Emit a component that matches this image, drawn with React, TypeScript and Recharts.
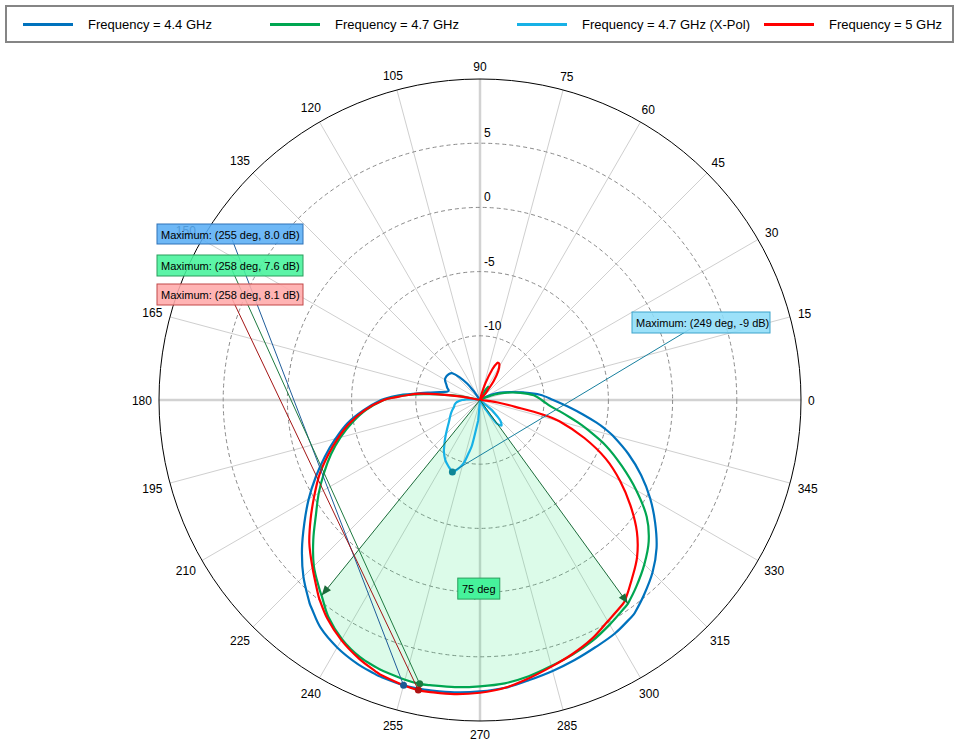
import React from 'react';
import { RadarChart, Radar, PolarGrid, PolarAngleAxis, PolarRadiusAxis } from 'recharts';

// angles (deg) of the sampled pattern, shared by all series
const angles = [
  0, 5, 10, 15, 20, 25, 30, 35, 40, 45,
  50, 54, 58, 62, 65, 68, 72, 76, 80, 85,
  90, 95, 100, 105, 110, 115, 120, 125, 128, 132,
  136, 140, 145, 150, 155, 160, 163, 166, 169, 172,
  174, 176, 178, 180, 185, 190, 195, 200, 205, 210,
  215, 220, 225, 230, 231, 235, 240, 245, 249, 250,
  255, 258, 260, 265, 270, 275, 280, 285, 290, 295,
  300, 305, 306, 310, 315, 320, 325, 330, 335, 340,
  345, 347, 349, 352, 355,
];

// gain in dB, -15 = plot centre
const f44 = [
  -9.3, -10.3, -11.6, -12.6, -13.3, -14.0, -14.6, -15, -15, -15,
  -15, -15, -15, -15, -15, -15, -15, -15, -15, -15,
  -15, -15, -15, -15, -15, -15, -15, -14.2, -13.4, -12.6,
  -12.0, -11.85, -11.8, -11.85, -12.1, -12.3, -12.45, -12.35, -11.8, -10.9,
  -10.1, -9.0, -8.1, -7.3, -5.9, -4.5, -3.35, -2.15, -0.9, 0.4,
  1.7, 3.1, 4.45, 5.65, 5.85, 6.65, 7.25, 7.65, 7.85, 7.9,
  8.0, 7.98, 7.95, 7.85, 7.7, 7.5, 7.15, 6.85, 6.55, 6.25,
  6.0, 5.6, 5.5, 4.85, 4.0, 2.95, 1.65, 0.3, -1.15, -2.7,
  -4.3, -5.0, -5.75, -6.9, -7.9,
];

const f47 = [
  -10.2, -10.8, -11.8, -12.8, -13.7, -14.5, -15, -15, -15, -15,
  -15, -14.3, -13.8, -14.2, -14.8, -15, -15, -15, -15, -15,
  -15, -15, -15, -15, -15, -15, -15, -15, -15, -15,
  -15, -15, -15, -15, -15, -15, -15, -15, -13.4, -11.8,
  -10.6, -9.4, -8.4, -7.5, -6.1, -4.9, -3.75, -2.65, -1.6, -0.5,
  0.6, 1.95, 3.3, 4.4, 4.6, 5.6, 6.5, 7.1, 7.35, 7.4,
  7.55, 7.6, 7.55, 7.45, 7.3, 7.15, 6.85, 6.45, 6.1, 5.7,
  5.2, 4.7, 4.6, 3.95, 3.1, 2.15, 0.85, -0.95, -2.8, -4.55,
  -6.45, -7.15, -7.85, -8.75, -9.5,
];

const f47x = [
  -15, -15, -15, -15, -15, -15, -15, -15, -15, -15,
  -15, -15, -15, -15, -15, -15, -15, -15, -15, -15,
  -15, -15, -15, -15, -15, -15, -15, -15, -15, -15,
  -15, -15, -15, -15, -15, -15, -15, -15, -15, -15,
  -14.6, -14.3, -13.9, -13.6, -13.2, -13.0, -12.9, -12.7, -12.5, -12.3,
  -12.05, -11.7, -11.25, -10.7, -10.6, -10.1, -9.6, -9.25, -9.0, -9.05,
  -9.8, -10.8, -11.4, -13.4, -15, -15, -15, -15, -15, -15,
  -14.2, -12.9, -12.7, -12.4, -12.8, -13.8, -15, -15, -15, -15,
  -15, -15, -15, -15, -15,
];

const f50 = [
  -15, -15, -15, -15, -15, -15, -15, -15, -15, -15,
  -14.3, -13.2, -12.3, -11.8, -11.8, -12.4, -13.6, -14.6, -15, -15,
  -15, -15, -15, -15, -15, -15, -15, -15, -15, -15,
  -15, -15, -15, -15, -15, -15, -15, -15, -13.8, -12.0,
  -10.3, -9.4, -8.5, -7.5, -6.0, -4.7, -3.55, -2.4, -1.2, -0.1,
  1.1, 2.35, 3.45, 4.65, 4.9, 5.75, 6.6, 7.25, 7.65, 7.75,
  8.0, 8.1, 8.08, 8.0, 7.8, 7.5, 7.0, 6.5, 6.05, 5.55,
  4.9, 4.4, 4.25, 3.35, 2.3, 0.95, -0.7, -2.4, -4.2, -6.35,
  -8.6, -10.0, -12.2, -13.6, -14.5,
];

// half-power beam of the 4.7 GHz pattern
const beamStart = 231;
const beamEnd = 306;

const angleTicks = [0, 15, 30, 45, 60, 75, 90, 105, 120, 135, 150, 165, 180, 195, 210, 225, 240, 255, 270, 285, 300, 315, 330, 345];
const radiusTicks = [-10, -5, 0, 5];
const radiusDomain = [-15, 10];

const seriesNames = ['Frequency = 4.4 GHz', 'Frequency = 4.7 GHz', 'Frequency = 4.7 GHz (X-Pol)', 'Frequency = 5 GHz'];
const maxAngles = [255, 258, 249, 258];
const maxLabels = ['Maximum: (255 deg, 8.0 dB)', 'Maximum: (258 deg, 7.6 dB)', 'Maximum: (249 deg, -9 dB)', 'Maximum: (258 deg, 8.1 dB)'];

const rows = angles.map((angle, i) => ({
  angle,
  f44: f44[i],
  f47: f47[i],
  f47x: f47x[i],
  f50: f50[i],
  beam: angle >= beamStart && angle <= beamEnd ? f47[i] : radiusDomain[0],
}));

const FONT = '"Liberation Sans", Arial, sans-serif';

const series = [
  { key: 'f44', color: '#0072BD', box: { x: 157, y: 224, w: 146, h: 20 }, fill: '#5AAEF5', edge: '#2F72B8', lead: '#1F5C99', dot: '#1C5A94' },
  { key: 'f47', color: '#00A651', box: { x: 157, y: 255, w: 146, h: 21 }, fill: '#46F29B', edge: '#2A9E5C', lead: '#1E7A40', dot: '#1C7A40' },
  { key: 'f47x', color: '#17B1E6', box: { x: 632, y: 312, w: 138, h: 21 }, fill: '#8EDDF8', edge: '#3DA3CB', lead: '#17809F', dot: '#0F8596' },
  { key: 'f50', color: '#FF0000', box: { x: 157, y: 284, w: 146, h: 21 }, fill: '#FFAAAA', edge: '#C24848', lead: '#A31515', dot: '#B01212' },
];

// boxes drawn in this order so each box covers the leader lines under it
const annotationOrder = [0, 1, 3, 2];

const chartProps = {
  width: 958,
  height: 748,
  data: rows,
  cx: 480,
  cy: 400,
  outerRadius: 321,
  startAngle: 0,
  endAngle: 360,
  margin: { top: 0, right: 0, bottom: 0, left: 0 },
};

function dist(a: any, b: any) {
  return Math.hypot(a.x - b.x, a.y - b.y);
}

function atCentre(p: any) {
  const r = p.radius != null ? p.radius : Math.hypot(p.x - p.cx, p.y - p.cy);
  return r < 0.5;
}

// closed smooth path through the radar points (straight spokes into the centre)
function smoothPath(pts: any[]) {
  const n = pts.length;
  if (!n) return '';
  const dirs = pts.map((p, i) => {
    if (atCentre(p)) return { x: 0, y: 0 };
    let a = pts[(i - 1 + n) % n];
    let b = pts[(i + 1) % n];
    if (atCentre(a)) a = p;
    if (atCentre(b)) b = p;
    const s = dist(a, p) + dist(p, b);
    if (s === 0) return { x: 0, y: 0 };
    return { x: (b.x - a.x) / s, y: (b.y - a.y) / s };
  });
  let d = `M${pts[0].x},${pts[0].y}`;
  for (let i = 0; i < n; i++) {
    const p = pts[i];
    const j = (i + 1) % n;
    const q = pts[j];
    if (atCentre(p) || atCentre(q)) {
      d += ` L${q.x},${q.y}`;
    } else {
      const L = dist(p, q) / 3;
      d += ` C${p.x + dirs[i].x * L},${p.y + dirs[i].y * L} ${q.x - dirs[j].x * L},${q.y - dirs[j].y * L} ${q.x},${q.y}`;
    }
  }
  return d + ' Z';
}

function curveShape(color: string, width: number, fill: string, fillOpacity: number) {
  return (p: any) => (
    <path d={smoothPath(p.points || [])} stroke={color} strokeWidth={width} fill={fill} fillOpacity={fillOpacity} strokeLinejoin="round" />
  );
}

function AngleTick(props: any) {
  const { x, y, payload } = props;
  const a = (payload.value * Math.PI) / 180;
  const label = String(payload.value);
  const w = label.length * 6.7;
  const ux = Math.cos(a);
  const uy = -Math.sin(a);
  const ext = (Math.abs(ux) * w) / 2 + Math.abs(uy) * 6;
  return (
    <text
      x={x + ux * ext}
      y={y + uy * ext + 1}
      textAnchor="middle"
      dominantBaseline="central"
      fontSize={12}
      fontFamily={FONT}
      fill="#000"
    >
      {label}
    </text>
  );
}

function RadiusTick(props: any) {
  const { x, y, payload } = props;
  return (
    <text x={x + 4} y={y - 6} textAnchor="start" fontSize={12} fontFamily={FONT} fill="#000">
      {payload.value}
    </text>
  );
}

function maxMark(idx: number) {
  const s = series[idx];
  return (p: any) => {
    const pt = (p.points || []).find((q: any) => q.payload && q.payload.angle === maxAngles[idx]);
    if (!pt) return <g />;
    const bx = s.box.x + s.box.w / 2;
    const by = s.box.y + s.box.h / 2;
    return (
      <g>
        <line x1={bx} y1={by} x2={pt.x} y2={pt.y} stroke={s.lead} strokeWidth={1} />
        <circle cx={pt.x} cy={pt.y} r={3.5} fill={s.dot} />
        <rect x={s.box.x} y={s.box.y} width={s.box.w} height={s.box.h} fill={s.fill} fillOpacity={0.88} stroke={s.edge} strokeWidth={1} />
        <text x={s.box.x + 4} y={by + 0.5} dominantBaseline="central" fontSize={11} fontFamily={FONT} fill="#000">
          {maxLabels[idx]}
        </text>
      </g>
    );
  };
}

function beamMarks(p: any) {
  const pts = p.points || [];
  const edges = pts.filter((q: any) => q.payload && (q.payload.angle === beamStart || q.payload.angle === beamEnd));
  if (edges.length < 2) return <g />;
  const cx = edges[0].cx;
  const cy = edges[0].cy;
  const ink = '#1C6B3A';
  const mid = { x: (edges[0].x + edges[1].x) / 2, y: (edges[0].y + edges[1].y) / 2 };
  const lbl = { x: mid.x + 4, y: mid.y - 11 };
  return (
    <g>
      {edges.map((q: any, i: number) => {
        const dx = q.x - cx;
        const dy = q.y - cy;
        const len = Math.sqrt(dx * dx + dy * dy) || 1;
        const ux = dx / len;
        const uy = dy / len;
        const bx = q.x - ux * 10;
        const by = q.y - uy * 10;
        const tri = `${q.x},${q.y} ${bx - uy * 4},${by + ux * 4} ${bx + uy * 4},${by - ux * 4}`;
        return (
          <g key={i}>
            <line x1={cx} y1={cy} x2={q.x} y2={q.y} stroke={ink} strokeWidth={1} />
            <polygon points={tri} fill={ink} />
          </g>
        );
      })}
      <line x1={mid.x} y1={mid.y} x2={lbl.x} y2={lbl.y} stroke={ink} strokeWidth={1} />
      <rect x={lbl.x - 21} y={lbl.y - 10.5} width={42} height={21} fill="#46F29B" stroke="#2A9E5C" strokeWidth={1} />
      <text x={lbl.x} y={lbl.y + 0.5} textAnchor="middle" dominantBaseline="central" fontSize={11} fontFamily={FONT} fill="#000">
        {`${beamEnd - beamStart} deg`}
      </text>
    </g>
  );
}

function LegendBox() {
  return (
    <div
      style={{
        position: 'absolute',
        left: 5,
        top: 5,
        width: 949,
        height: 38,
        boxSizing: 'border-box',
        border: '2px solid #858585',
        background: '#fff',
        fontFamily: FONT,
        fontSize: 13,
      }}
    >
      {series.map((s, i) => (
        <div key={s.key} style={{ position: 'absolute', left: 16 + i * 247, top: 0, height: 34, display: 'flex', alignItems: 'center' }}>
          <div style={{ width: 50, height: 3, background: s.color }} />
          <span style={{ marginLeft: 15, color: '#000', whiteSpace: 'nowrap' }}>{seriesNames[i]}</span>
        </div>
      ))}
    </div>
  );
}

export default function App() {
  return (
    <div style={{ position: 'absolute', left: 0, top: 0, width: 958, height: 748, background: '#fff' }}>
      <div style={{ position: 'absolute', left: 0, top: 0 }}>
        <RadarChart {...chartProps}>
          <PolarGrid gridType="circle" polarRadius={[]} stroke="#cfcfcf" strokeWidth={1} />
          <PolarGrid gridType="circle" polarAngles={[0, 90, 180, 270]} polarRadius={[]} stroke="#d2d2d2" strokeWidth={2.5} />
          <PolarGrid gridType="circle" radialLines={false} stroke="#8a8a8a" strokeDasharray="4 3" />
          <PolarAngleAxis
            dataKey="angle"
            type="number"
            domain={[0, 360]}
            ticks={angleTicks}
            axisLineType="circle"
            axisLine={{ stroke: '#000', strokeWidth: 1 }}
            tickLine={false}
            tickSize={7}
            tick={<AngleTick />}
          />
          <PolarRadiusAxis
            angle={90}
            type="number"
            domain={radiusDomain}
            ticks={radiusTicks}
            allowDataOverflow
            axisLine={false}
            tickLine={false}
            tick={<RadiusTick />}
          />
          <Radar dataKey="beam" shape={curveShape('none', 0, '#2EE57A', 0.17)} isAnimationActive={false} />
          {series.map((s) => (
            <Radar key={s.key} dataKey={s.key} shape={curveShape(s.color, 2.2, 'none', 0)} isAnimationActive={false} />
          ))}
        </RadarChart>
      </div>
      {/* annotation layer above the axis labels, same polar layout */}
      <div style={{ position: 'absolute', left: 0, top: 0, pointerEvents: 'none' }}>
        <RadarChart {...chartProps}>
          <PolarAngleAxis dataKey="angle" type="number" domain={[0, 360]} ticks={angleTicks} axisLine={false} tickLine={false} tick={false} />
          <PolarRadiusAxis angle={90} type="number" domain={radiusDomain} ticks={radiusTicks} allowDataOverflow axisLine={false} tickLine={false} tick={false} />
          <Radar dataKey="beam" shape={beamMarks} isAnimationActive={false} />
          {annotationOrder.map((i) => (
            <Radar key={`max-${series[i].key}`} dataKey={series[i].key} shape={maxMark(i)} isAnimationActive={false} />
          ))}
        </RadarChart>
      </div>
      <LegendBox />
    </div>
  );
}
